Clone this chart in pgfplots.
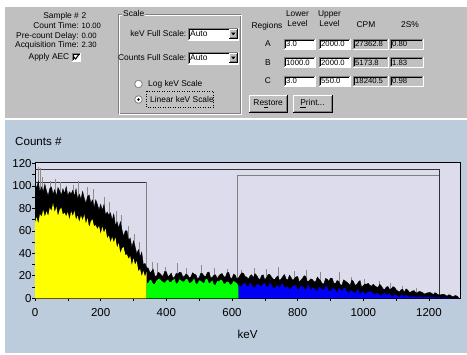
\documentclass[border=0pt]{standalone}
\usepackage{pgfplots}
\pgfplotsset{compat=1.18}
\usepackage{fontspec}
\setmainfont{Liberation Sans}
\definecolor{uigray}{RGB}{192,192,192}
\definecolor{panelblue}{RGB}{188,204,220}
\definecolor{plotbg}{RGB}{220,220,236}
\definecolor{yyellow}{RGB}{255,255,0}
\definecolor{ggreen}{RGB}{0,255,0}
\definecolor{bblue}{RGB}{0,0,245}
\definecolor{darkedge}{RGB}{128,128,128}
\definecolor{spikegray}{RGB}{140,140,140}
\newcommand\ui{\fontsize{8.4}{9}\selectfont}
\newcommand\uibox{\fontsize{7.7}{8}\selectfont}
\newcommand\sunkenbox[5]{%
  \fill[#5] (#1,#2) rectangle (#3,#4);
  \draw[darkedge,line width=0.8pt] (#1,#4) -- (#1,#2) -- (#3,#2);
  \draw[black,line width=0.8pt] (#1+1,#4-1) -- (#1+1,#2+1) -- (#3-1,#2+1);
  \draw[white,line width=0.8pt] (#1,#4) -- (#3,#4) -- (#3,#2);
}
\newcommand\raisedbox[4]{%
  \fill[uigray] (#1,#2) rectangle (#3,#4);
  \draw[white,line width=0.8pt] (#1,#4) -- (#1,#2) -- (#3,#2);
  \draw[black,line width=0.8pt] (#1,#4) -- (#3,#4) -- (#3,#2);
  \draw[darkedge,line width=0.8pt] (#1+1,#4-1) -- (#3-1,#4-1) -- (#3-1,#2+1);
}
\begin{document}
\begin{tikzpicture}
\begin{scope}[x=1pt,y=-1pt,every node/.style={font=\ui}]
  \fill[white] (0,0) rectangle (467,355);
  \fill[uigray] (5,7.5) rectangle (467,118);
  \fill[panelblue] (5,120) rectangle (467,353.5);
  % left info block
  \node[anchor=mid east,inner sep=0pt] at (79,16) {Sample \#};
  \node[anchor=mid west,inner sep=0pt] at (81.5,16) {2};
  \node[anchor=mid east,inner sep=0pt] at (79,26) {Count Time:};
  \node[anchor=mid west,inner sep=0pt,font=\uibox] at (81.5,26) {10.00};
  \node[anchor=mid east,inner sep=0pt] at (79,35.5) {Pre-count Delay:};
  \node[anchor=mid west,inner sep=0pt,font=\uibox] at (81.5,35.5) {0.00};
  \node[anchor=mid east,inner sep=0pt] at (79,45) {Acquisition Time:};
  \node[anchor=mid west,inner sep=0pt,font=\uibox] at (81.5,45) {2.30};
  \node[anchor=mid east,inner sep=0pt] at (69.5,57) {Apply AEC};
  \sunkenbox{72}{53}{80.5}{61.5}{white}
  \draw[line width=1.1pt] (73.6,56.8) -- (75.6,59) -- (78.8,54.6);
  % Scale group
  \draw[darkedge,line width=0.8pt] (118,14) rectangle (240.5,113);
  \draw[white,line width=0.8pt] (119,15) rectangle (241.5,114);
  \node[fill=uigray,inner sep=1pt,anchor=mid west] at (122,14) {Scale};
  \node[anchor=mid east,inner sep=0pt] at (186.5,33.5) {keV Full Scale:};
  \sunkenbox{188}{28}{238.5}{40}{white}
  \raisedbox{229.3}{29.5}{237.3}{38.5}
  \fill (231.1,32.6) -- (235.5,32.6) -- (233.3,35.4) -- cycle;
  \node[anchor=mid west,inner sep=0pt] at (190,33.8) {Auto};
  \node[anchor=mid east,inner sep=0pt] at (186.5,57.5) {Counts Full Scale:};
  \sunkenbox{188}{52}{238.5}{64}{white}
  \raisedbox{229.3}{53.5}{237.3}{62.5}
  \fill (231.1,56.6) -- (235.5,56.6) -- (233.3,59.4) -- cycle;
  \node[anchor=mid west,inner sep=0pt] at (190,57.8) {Auto};
  \fill[white] (138.5,84) circle (3.8);
  \draw[darkedge,line width=0.8pt] (138.5,84) circle (3.8);
  \node[anchor=mid west,inner sep=0pt] at (148,84) {Log keV Scale};
  \fill[white] (138.5,99.5) circle (3.8);
  \draw[darkedge,line width=0.8pt] (138.5,99.5) circle (3.8);
  \fill[black] (138.5,99.5) circle (1.4);
  \node[anchor=mid west,inner sep=0pt] at (150,99.5) {Linear keV Scale};
  \draw[dotted,line width=0.5pt] (146,91.5) rectangle (213,107.5);
  % Regions
  \node[inner sep=0pt] at (267,26) {Regions};
  \node[inner sep=0pt] at (297.5,14) {Lower};
  \node[inner sep=0pt] at (297.5,23.5) {Level};
  \node[inner sep=0pt] at (329.5,14) {Upper};
  \node[inner sep=0pt] at (329.5,23.5) {Level};
  \node[inner sep=0pt] at (366,25) {CPM};
  \node[inner sep=0pt] at (410,25) {2S\%};
  \node[inner sep=0pt] at (268,44) {A};
  \node[inner sep=0pt] at (268,62.5) {B};
  \node[inner sep=0pt] at (268,81) {C};
  \foreach \ya/\yb/\va/\vb/\vc/\vd in {39/49/3.0/2000.0/27362.8/0.80, 57.5/67.5/1000.0/2000.0/5173.8/1.83, 76/86/3.0/550.0/18240.5/0.98}{
    \sunkenbox{284}{\ya}{315}{\yb}{white}
    \sunkenbox{319}{\ya}{350}{\yb}{white}
    \sunkenbox{353}{\ya}{388}{\yb}{uigray}
    \sunkenbox{390}{\ya}{423}{\yb}{uigray}
    \node[anchor=mid west,inner sep=0pt,font=\uibox] at (286,\ya/2+\yb/2+0.3) {\va};
    \node[anchor=mid west,inner sep=0pt,font=\uibox] at (321,\ya/2+\yb/2+0.3) {\vb};
    \node[anchor=mid west,inner sep=0pt,font=\uibox] at (355,\ya/2+\yb/2+0.3) {\vc};
    \node[anchor=mid west,inner sep=0pt,font=\uibox] at (392,\ya/2+\yb/2+0.3) {\vd};
  }
  \raisedbox{249}{95}{287.5}{112}
  \node[inner sep=0pt] at (268.2,103.5) {Re\underline{s}tore};
  \raisedbox{293}{95}{332}{112}
  \node[inner sep=0pt] at (312.5,103.5) {\underline{P}rint...};
  % chart labels
  \node[anchor=mid west,inner sep=0pt,font=\fontsize{11.6}{12}\selectfont] at (15,143) {Counts \#};
  \node[inner sep=0pt,font=\fontsize{11.6}{12}\selectfont] at (247.5,334.5) {keV};
\end{scope}
\begin{axis}[
  at={(35pt,-298.3pt)}, anchor=south west,
  scale only axis, width=425.7pt, height=136pt,
  xmin=0, xmax=1296.6, ymin=0, ymax=120.9,
  axis background/.style={fill=plotbg},
  axis line style={draw=black,line width=0.8pt},
  xtick={0,200,...,1200}, minor xtick={100,300,...,1100},
  ytick={0,20,...,120}, minor ytick={10,30,...,110},
  tick align=outside, xtick pos=bottom, ytick pos=left,
  major tick length=2.6pt, minor tick length=2.6pt,
  every tick/.style={black,line width=0.6pt},
  /pgf/number format/assume math mode=true,
  /pgf/number format/1000 sep={},
  tick label style={font=\fontsize{11.5}{12}\selectfont, inner sep=0pt},
  xticklabel style={anchor=north, yshift=-7pt},
  yticklabel style={anchor=east, xshift=-0.6pt},
]
% region boxes
\addplot[draw=black!80, line width=0.8pt] coordinates {(0,115) (1232,115) (1232,0)};
\addplot[draw=black!80, line width=0.8pt] coordinates {(0,103) (339,103)};
\addplot[draw=darkedge, line width=0.8pt] coordinates {(339,103) (339,0)};
\addplot[draw=darkedge, line width=0.8pt] coordinates {(616,0) (616,109) (1232,109)};
% light spikes
\addplot[ycomb, draw=spikegray, line width=0.7pt, mark=none] coordinates {
(10,117) (15,116) (22,108) (48,104) (62,106) (78,103) (118,101) (132,104) (158,99) (178,97)
(212,90) (226,86) (248,78) (262,74) (284,64) (302,57) (318,50) (338,40) (356,32) (372,31)
(398,28) (433,31) (462,27) (508,30) (545,27) (585,26) (628,25) (668,27) (705,26) (742,28)
(790,24) (825,25) (870,23) (928,23) (965,19) (1002,17) (1049,15.4) (1082,14) (1120,11)
(1160,9) (1215,6) (1245,4)};
% black spectrum envelope
\addplot[fill=black, draw=black, line width=0.4pt, mark=none] coordinates {
(0,103) (5,97.5) (10,104) (15,94.5) (20,99) (25,94.5) (30,101.5) (35,95.5) (40,91) (45,97.5)
(50,99) (55,92.5) (60,96.5) (65,90.5) (70,98.5) (75,95.5) (80,91.5) (85,97.3) (90,93) (95,99.3)
(100,91) (105,94.7) (110,92.8) (115,96) (120,90.7) (125,97.3) (130,88) (135,92.5) (140,88) (145,95)
(150,89) (155,84.3) (160,90.5) (165,91.8) (170,84.5) (175,87.5) (180,80.5) (185,87.5) (190,83.5) (195,78.5)
(200,83.5) (205,78.2) (210,83.3) (215,74) (220,76.7) (225,73.8) (230,76) (235,69.5) (240,75) (245,64.5)
(250,68) (255,62.3) (260,68) (265,60.8) (270,55) (275,60) (280,60) (285,51.5) (290,53.5) (295,45.3)
(300,51) (305,45.8) (310,39.5) (315,43.2) (320,36.8) (325,41) (330,30) (335,31) (340,27.2) (345,26.8)
(350,22.8) (355,23.8) (360,26) (365,19.8) (370,19.6) (375,23.1) (380,22.3) (385,20.6) (390,19.5) (395,23.9)
(400,23.7) (405,19.2) (410,20.4) (415,22.4) (420,17.9) (425,18.8) (430,22.1) (435,21.4) (440,23.2) (445,22.9)
(450,19.3) (455,19.5) (460,21.6) (465,20.7) (470,18) (475,19.1) (480,22.7) (485,21.5) (490,20.9) (495,17.5)
(500,18.4) (505,22.3) (510,22) (515,19.8) (520,19.5) (525,22.8) (530,23.4) (535,18.2) (540,18.5) (545,20.6)
(550,20.9) (555,17.5) (560,19.9) (565,21.4) (570,22) (575,19.2) (580,18.9) (585,22.8) (590,23) (595,18.2)
(600,17.6) (605,21.5) (610,20.6) (615,17) (620,18.2) (625,20.6) (630,22.7) (635,22.1) (640,19.4) (645,18.8)
(650,17) (655,19.9) (660,21) (665,18.2) (670,22) (675,20.4) (680,17.9) (685,16.3) (690,20.1) (695,20.9)
(700,16.3) (705,18.3) (710,21) (715,21.2) (720,19) (725,17.2) (730,16.5) (735,18.8) (740,19.9) (745,15.6)
(750,17.4) (755,19.4) (760,21.1) (765,17.1) (770,16.2) (775,20.6) (780,18.4) (785,15.9) (790,17.4) (795,19.1)
(800,19.3) (805,14.4) (810,16.1) (815,17.8) (820,20.1) (825,19.1) (830,14.5) (835,15.6) (840,17.3) (845,16.6)
(850,14.7) (855,14.9) (860,19) (865,17.1) (870,15.5) (875,13) (880,12.9) (885,17.6) (890,16.9) (895,15)
(900,17.9) (905,17.8) (910,13.7) (915,13) (920,15.8) (925,15.1) (930,11.9) (935,11.8) (940,16.4) (945,15.4)
(950,14.3) (955,13) (960,11.6) (965,16.3) (970,14.9) (975,11.5) (980,12.2) (985,14.5) (990,15.8) (995,9.7)
(1000,11.3) (1005,12.7) (1010,12.5) (1015,13.3) (1020,11.5) (1025,10.7) (1030,12.5) (1035,11.1) (1040,10.1) (1045,9.7)
(1050,12.5) (1055,10.9) (1060,8.4) (1065,7.8) (1070,9.9) (1075,10.5) (1080,7.8) (1085,8.4) (1090,10.3) (1095,9.9)
(1100,7.6) (1105,6.4) (1110,5.6) (1115,7.6) (1120,8) (1125,5.2) (1130,8.4) (1135,7.4) (1140,5.4) (1145,5.6)
(1150,6.6) (1155,6.8) (1160,4.8) (1165,5) (1170,6.1) (1175,5.8) (1180,5.2) (1185,4) (1190,4.1) (1195,4.9)
(1200,5) (1205,5.1) (1210,3.9) (1215,3.7) (1220,4.9) (1225,3.75) (1230,3) (1235,3) (1240,3.5) (1245,3.5)
(1250,2.9) (1255,1.8) (1260,3.1) (1265,2.9) (1270,1.6) (1275,1.6) (1280,2.5) (1285,2) (1290,0.8)} \closedcycle;
% yellow region
\addplot[fill=yyellow, draw=none, mark=none] coordinates {
(0,67.5) (5,72.2) (10,66.3) (15,75) (20,72.3) (25,78.7) (30,72.5) (35,77.3) (40,73.1) (45,80.4)
(50,77.7) (55,84.5) (60,76.4) (65,81.3) (70,73.2) (75,78.6) (80,80.5) (85,74.5) (90,76) (95,73)
(100,76.5) (105,69.7) (110,77.3) (115,73) (120,77.7) (125,69.8) (130,73.5) (135,67.8) (140,73.5) (145,69.3)
(150,74.5) (155,66.3) (160,71.2) (165,63) (170,68.3) (175,70.2) (180,64) (185,65) (190,61.5) (195,64.5)
(200,57) (205,63.7) (210,58.3) (215,62) (220,53.2) (225,55.8) (230,49.5) (235,54.5) (240,49.5) (245,54)
(250,45) (255,49) (260,40) (265,44.5) (270,45.5) (275,38.5) (280,39) (285,35) (290,37.5) (295,29.3)
(300,35.5) (305,29.8) (310,33) (315,23.8) (320,26.2) (325,19.5) (330,24.3) (335,19.2) (340,23.5)} \closedcycle;
% green region
\addplot[fill=ggreen, draw=none, mark=none] coordinates {
(340,13.5) (345,13.8) (350,16.3) (355,15.8) (360,12.5) (365,12.8) (370,15.6) (375,17) (380,17) (385,15.6)
(390,14.4) (395,13.7) (400,15.5) (405,16.7) (410,14.2) (415,14.7) (420,16.2) (425,17.2) (430,12.9) (435,13.8)
(440,16.8) (445,15.8) (450,14.8) (455,15) (460,17.2) (465,16.7) (470,13.4) (475,14.1) (480,15.4) (485,17.6)
(490,12.8) (495,13) (500,16) (505,15.5) (510,14.2) (515,13.4) (520,17.1) (525,17) (530,13.2) (535,14.2)
(540,15.9) (545,12.1) (550,12) (555,15.5) (560,14.9) (565,16.4) (570,16) (575,13) (580,13.2) (585,14.9)
(590,14.1) (595,11.8) (600,12.8) (605,15.5) (610,14.3) (615,13.5) (620,10.5)} \closedcycle;
% blue region
\addplot[fill=bblue, draw=none, mark=none] coordinates {
(620,13.5) (625,10.2) (630,11.5) (635,13.2) (640,13.9) (645,11.1) (650,10.1) (655,14.3) (660,12) (665,10.2)
(670,9.5) (675,12.2) (680,12.7) (685,11.4) (690,10.9) (695,13) (700,13.8) (705,10.4) (710,9.9) (715,13.8)
(720,12.5) (725,9.1) (730,8.6) (735,11.5) (740,11.4) (745,9.3) (750,12.5) (755,12.9) (760,9.6) (765,10)
(770,10.45) (775,7.9) (780,9.1) (785,11.2) (790,10.9) (795,12.1) (800,7.5) (805,8.7) (810,11.3) (815,10.5)
(820,9.1) (825,7.3) (830,11.4) (835,11.1) (840,7.5) (845,9.4) (850,9.3) (855,7.2) (860,6.6) (865,10)
(870,9.6) (875,7.8) (880,7.7) (885,10.8) (890,10.5) (895,6.6) (900,6.5) (905,8.4) (910,9.1) (915,7.5)
(920,5.1) (925,9) (930,7.9) (935,6.3) (940,9) (945,9.6) (950,6) (955,4.9) (960,6.7) (965,7.1)
(970,5.2) (975,4.8) (980,6.9) (985,8.2) (990,3.3) (995,5.2) (1000,6.4) (1005,3.9) (1010,4.9) (1015,5.7)
(1020,6.1) (1025,6) (1030,3.6) (1035,3.7) (1040,4.5) (1045,4.6) (1050,2.7) (1055,2.5) (1060,4.3) (1065,4.6)
(1070,3) (1075,3.4) (1080,4.5) (1085,1.9) (1090,1.9) (1095,3.4) (1100,3.3) (1105,2) (1110,0.8) (1115,3.7)
(1120,2.4) (1125,1.1) (1130,3) (1135,2.1) (1140,1.1) (1145,1.5) (1150,1.5) (1155,1.8) (1160,1.2) (1165,1.2)
(1170,1.5) (1175,1.8) (1180,0.7) (1185,0.8) (1190,1.4) (1195,1.2) (1200,0.9) (1205,0.7) (1210,1.3) (1215,1.3)
(1220,0.5) (1225,0.65) (1230,0.8) (1235,0.3) (1240,0.2) (1245,0.75) (1250,0.7) (1255,0.45) (1260,0.3) (1265,0.3)
(1270,0.2) (1275,0.15) (1280,0.1) (1285,0.05) (1290,0)} \closedcycle;
\end{axis}
\end{tikzpicture}
\end{document}
